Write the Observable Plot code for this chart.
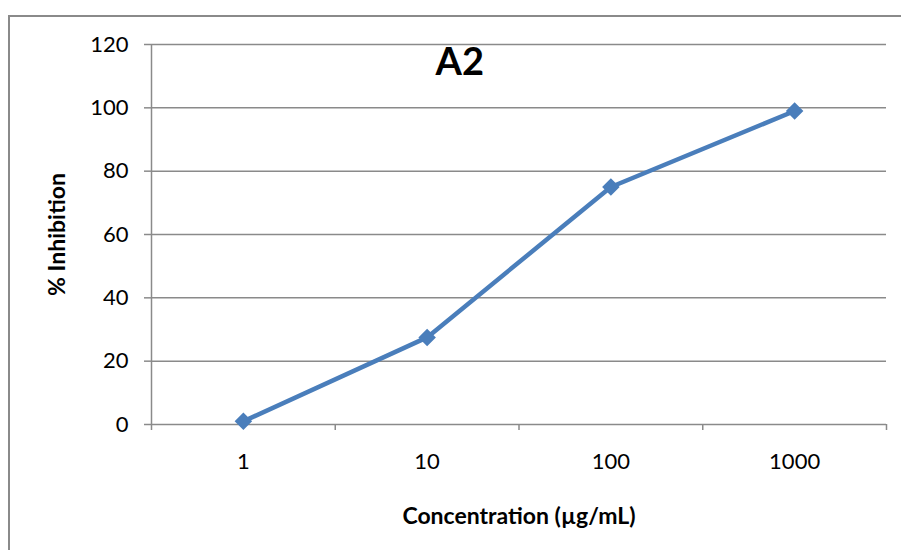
<!DOCTYPE html>
<html>
<head>
<meta charset="utf-8">
<script src="https://cdn.jsdelivr.net/npm/d3@7"></script>
<script src="https://cdn.jsdelivr.net/npm/@observablehq/plot@0.6"></script>
<style>
  html, body { margin: 0; padding: 0; background: #fff; }
  #wrap { position: relative; width: 901px; height: 550px; overflow: hidden; }
  #border { position: absolute; left: 8px; top: 15px; right: -10px; bottom: -10px; border-left: 2px solid #8a8a8a; border-top: 2px solid #8a8a8a; pointer-events: none; }
  #wrap svg { position: absolute; left: 0; top: 0; }
</style>
</head>
<body>
<div id="wrap"><div id="border"></div></div>
<script>
const categories = ["1", "10", "100", "1000"];
const inhibition = [1, 27.5, 75, 99];
const yTicks = [0, 20, 40, 60, 80, 100, 120];
const title = "A2";
const xLabel = "Concentration (µg/mL)";
const yLabel = "% Inhibition";

const data = categories.map((c, i) => ({cat: c, pos: i + 0.5, value: inhibition[i]}));
const boundaries = d3.range(categories.length + 1);
const centers = categories.map((c, i) => i + 0.5);

const font = "Lato, 'Open Sans', sans-serif";
const grey = "#8a8a8a";
const blue = "#4a7ebb";

const chart = Plot.plot({
  width: 901,
  height: 550,
  marginLeft: 151,
  marginRight: 15,
  marginTop: 44,
  marginBottom: 126,
  style: {fontFamily: font, fontSize: "22px", color: "#000", background: "transparent", overflow: "visible"},
  x: {type: "linear", domain: [0, categories.length]},
  y: {domain: [0, 120]},
  marks: [
    Plot.ruleY(yTicks.filter(d => d > 0), {stroke: grey, strokeWidth: 1.5}),
    Plot.axisY({ticks: yTicks, tickSize: 7, tickPadding: 16, stroke: grey, strokeWidth: 1.5, fill: "#000", label: null}),
    Plot.ruleX([0], {stroke: grey, strokeWidth: 1.5}),
    Plot.ruleY([0], {stroke: grey, strokeWidth: 1.5}),
    Plot.axisX({ticks: boundaries, tickSize: 6, tickFormat: () => "", stroke: grey, strokeWidth: 1.5, label: null}),
    Plot.axisX({ticks: centers, tickSize: 0, tickPadding: 29, tickFormat: d => categories[Math.floor(d)], fill: "#000", label: null}),
    Plot.line(data, {x: "pos", y: "value", stroke: blue, strokeWidth: 4.5}),
    Plot.dot(data, {x: "pos", y: "value", symbol: "square", rotate: 45, r: 7, fill: blue, stroke: null}),
    Plot.text([title], {frameAnchor: "top-left", dx: 284, dy: 4, text: d => d, fontSize: 38, fontWeight: "bold", fill: "#000", lineAnchor: "top"}),
    Plot.text([xLabel], {frameAnchor: "bottom", dy: 92, text: d => d, fontSize: 23, fontWeight: "bold", fill: "#000", lineAnchor: "middle"}),
    Plot.text([yLabel], {frameAnchor: "left", dx: -94, dy: 0, rotate: -90, text: d => d, fontSize: 23, fontWeight: "bold", fill: "#000", lineAnchor: "middle", textAnchor: "middle"})
  ]
});
document.getElementById("wrap").appendChild(chart);
</script>
</body>
</html>
